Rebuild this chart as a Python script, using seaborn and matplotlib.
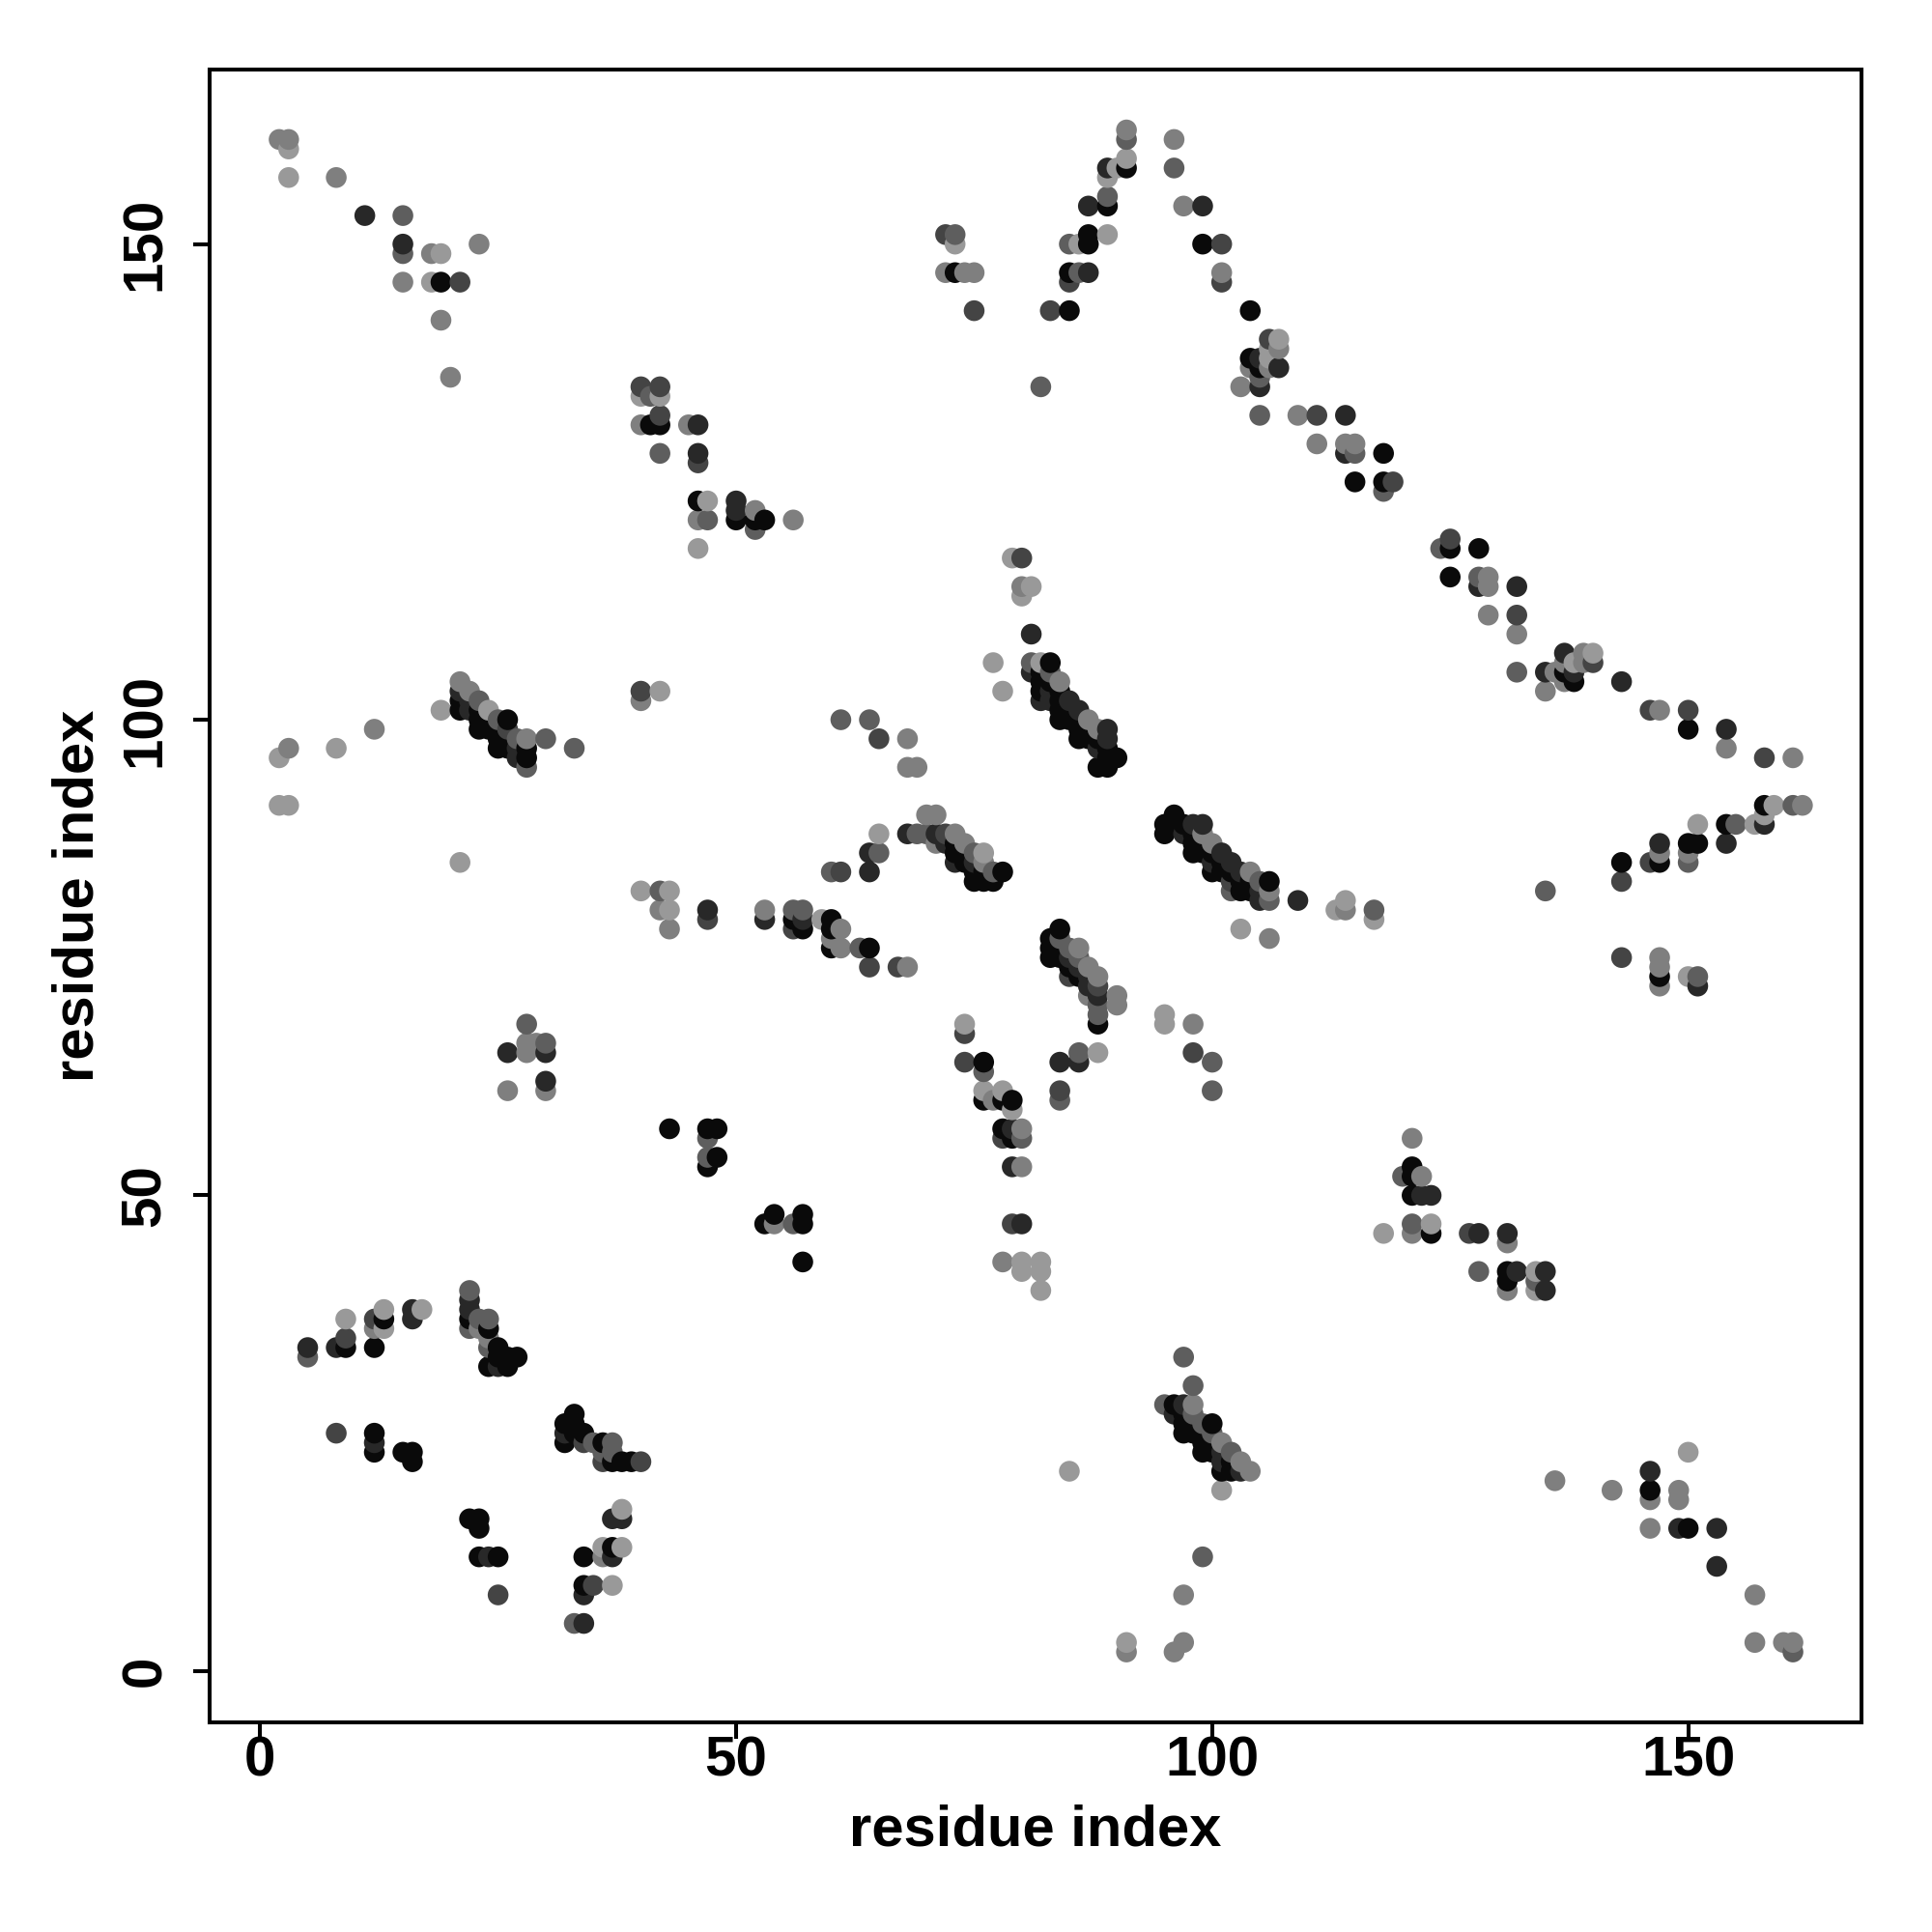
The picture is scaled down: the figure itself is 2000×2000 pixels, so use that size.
import pandas as pd
import matplotlib.pyplot as plt
import seaborn as sns

sns.set_style("white")
plt.rcParams['font.family'] = ['Liberation Sans', 'DejaVu Sans']
plt.rcParams['text.color'] = 'black'
plt.rcParams['axes.labelcolor'] = 'black'
plt.rcParams['xtick.color'] = 'black'
plt.rcParams['ytick.color'] = 'black'

# contact map: residue pairs and a shade class
# shade: 0 black, 1 dark, 2 dark-mid, 3 mid-dark, 4 mid, 5 light
res_x = [
    # top left
    2, 3, 3, 3, 8, 11, 15, 15, 15, 18, 19, 23, 15, 18, 19, 21, 19, 20,
    # 40-56 upper block
    40, 42, 40, 41, 42, 42, 40, 41, 42, 45, 46, 42, 46, 46, 46, 47, 50, 50, 50, 52, 52, 53, 52, 46, 47, 56, 46,
    # top centre ridge
    91, 91, 96, 89, 90, 91, 91, 96, 89, 87, 89, 89, 97, 99, 87, 89, 87, 85, 86, 99, 101, 72, 73, 73, 72, 73, 74, 75,
    85, 86, 87, 85, 101, 101, 75, 83, 85, 104,
    # knot near 105
    106, 107, 107, 106, 104, 105, 106, 104, 105, 106, 107, 105, 103, 105, 82, 105, 109, 111, 114, 111, 114, 115, 114,
    115, 118, 115, 118, 119, 118,
    # 77-81 above the diagonal block
    79, 80, 80, 81, 80, 81, 77, 78,
    # 81-90 block
    81, 82, 83, 81, 82, 83, 84, 82, 83, 82, 83, 84, 82, 83, 84, 85, 84, 85, 86, 84, 85, 86, 87, 86, 87, 88, 89,
    86, 87, 88, 89, 88, 89, 89, 90, 88, 89,
    61, 64, 65, 68, 68, 69,
    # 68-78 block
    70, 71, 68, 69, 70, 71, 72, 73, 65, 64, 65, 60, 61, 64, 71, 72, 73, 74, 73, 74, 75, 76, 73, 74, 75, 76,
    75, 76, 77, 78, 75, 76, 77,
    # 95-106 block
    96, 95, 96, 97, 98, 99, 95, 97, 98, 99, 98, 99, 100, 98, 99, 100, 101, 100, 101, 102, 100, 101, 102, 103, 104,
    102, 103, 104, 105, 106, 102, 103, 104, 105, 106, 105, 106, 109, 113, 114, 114, 117, 117, 103, 106,
    # 59-68 tail
    59, 60, 60, 61, 60, 60, 61, 63, 64, 64, 67, 68,
    # 83-90 lower block
    84, 83, 84, 83, 84, 85, 86, 83, 84, 85, 86, 85, 86, 87, 85, 86, 87, 88, 87, 88, 87, 88, 90, 88, 90, 88, 88,
    95, 95, 98, 98, 100, 100,
    74, 74, 74, 76, 76, 84, 86, 86, 88, 84, 84,
    76, 78, 76, 77, 78, 79, 79, 78, 79, 80, 78, 79, 80, 79, 80, 79, 80, 78, 80, 82, 80, 82, 82,
    # 124-140 stretch
    125, 124, 125, 128, 125, 128, 129, 128, 129, 132, 129, 132, 132, 132, 135, 136, 137, 139, 140, 137, 138, 139, 140,
    137, 138, 137, 138, 135, 143, 146, 147, 150, 150, 154, 154, 158, 161,
    # right arm
    158, 159, 161, 162, 151, 154, 155, 157, 158, 158, 147, 150, 151, 154, 147, 150, 143, 146, 147, 150, 143, 135,
    143, 147, 147, 147, 147, 150, 151, 151,
    # 118-135 lower right
    121, 121, 120, 121, 122, 121, 122, 123, 121, 123, 118, 121, 123, 127, 128, 131, 131, 128, 131, 132, 134, 135,
    131, 134, 131, 134, 135,
    # bottom right
    136, 142, 146, 146, 146, 146, 149, 149, 149, 150, 150, 153, 153, 157, 157, 160, 161, 161,
    # left upper block
    21, 22, 21, 23, 21, 22, 21, 22, 23, 24, 19, 26, 25, 23, 24, 23, 24, 25, 26, 25, 26, 27, 28, 30, 25, 26, 27, 28, 33,
    27, 28, 28, 3, 2, 8, 12, 2, 3, 21,
    40, 40, 42,
    # 40-57 middle
    40, 42, 43, 42, 43, 43, 47, 47, 53, 53, 56, 57, 56, 57, 56, 57,
    28, 28, 29, 30, 26, 28, 30, 30, 30, 26,
    43, 47, 48, 47, 47, 48, 47,
    53, 54, 54, 56, 57, 57, 57,
    # bottom left
    5, 5, 8, 9, 9, 9, 12, 12, 12, 13, 13, 13, 16, 16, 17,
    22, 22, 22, 22, 22, 23, 23, 24, 24, 24, 24, 25, 25, 26, 27, 24, 25, 26,
    8, 12, 12, 12, 15, 16, 16,
    33, 32, 33, 32, 33, 34, 32, 34, 35, 36, 37, 36, 37, 36, 37, 38, 39, 40,
    22, 23, 23, 23, 24, 25, 25,
    37, 38, 38, 36, 37, 38, 34, 36, 37, 34, 35, 37, 34, 33, 34,
    # 95-104 lower block
    97, 98, 95, 96, 97, 98, 96, 97, 98, 97, 98, 99, 100, 97, 98, 99, 100, 99, 100, 101, 99, 100, 101, 102, 101, 102,
    103, 101, 102, 103, 104, 101, 99, 97, 91, 91, 97, 96, 85,
]
res_y = [
    161, 161, 160, 157, 157, 153, 153, 150, 149, 149, 149, 150, 146, 146, 146, 146, 142, 136,
    135, 135, 134, 134, 134, 132, 131, 131, 131, 131, 131, 128, 128, 127, 123, 123, 123, 122, 121, 122, 121, 121, 120, 121, 121, 121, 118,
    162, 161, 161, 158, 158, 158, 159, 158, 157, 154, 154, 155, 154, 154, 151, 151, 150, 150, 150, 150, 150, 151, 151, 150, 147, 147, 147, 147,
    147, 147, 147, 146, 147, 146, 143, 143, 143, 143,
    140, 140, 139, 139, 138, 138, 138, 137, 137, 137, 137, 136, 135, 135, 135, 132, 132, 132, 132, 129, 129, 129, 128,
    128, 128, 125, 125, 125, 124,
    117, 117, 114, 114, 113, 109, 106, 103,
    106, 106, 106, 105, 105, 105, 104, 104, 104, 103, 103, 103, 102, 102, 102, 102, 101, 101, 101, 100, 100, 100, 100, 99, 99, 99, 99,
    98, 98, 98, 98, 97, 97, 96, 96, 95, 95,
    100, 100, 98, 98, 95, 95,
    90, 90, 88, 88, 88, 88, 88, 88, 88, 86, 86, 84, 84, 84, 87, 87, 87, 87, 86, 86, 86, 86, 85, 85, 85, 85,
    84, 84, 84, 84, 83, 83, 83,
    90, 89, 89, 89, 89, 89, 88, 88, 88, 88, 87, 87, 87, 86, 86, 86, 86, 85, 85, 85, 84, 84, 84, 84, 84,
    83, 83, 83, 83, 83, 82, 82, 82, 82, 82, 81, 81, 81, 80, 81, 80, 80, 79, 78, 77,
    79, 79, 78, 78, 77, 76, 76, 76, 76, 74, 74, 74,
    78, 77, 77, 76, 76, 76, 76, 75, 75, 75, 75, 74, 74, 74, 73, 73, 73, 73, 72, 72, 71, 71, 71, 70, 70, 69, 68,
    69, 68, 68, 65, 64, 61,
    68, 67, 64, 64, 63, 64, 65, 64, 65, 61, 60,
    61, 61, 60, 60, 60, 60, 59, 57, 57, 57, 56, 56, 56, 53, 53, 47, 47, 43, 43, 43, 42, 42, 40,
    119, 118, 118, 118, 115, 115, 115, 114, 114, 114, 111, 111, 109, 105, 105, 105, 107, 107, 107, 106, 106, 106, 106,
    105, 105, 104, 104, 103, 104, 101, 101, 101, 99, 99, 97, 96, 96,
    91, 91, 91, 91, 89, 89, 89, 89, 90, 89, 87, 87, 87, 87, 86, 86, 85, 85, 85, 85, 83, 82,
    75, 75, 74, 73, 72, 73, 73, 72,
    56, 53, 52, 52, 52, 50, 50, 50, 47, 47, 46, 46, 46, 46, 46, 46, 45, 42, 42, 42, 42, 42,
    41, 41, 40, 40, 40,
    20, 19, 21, 19, 18, 15, 19, 18, 15, 15, 23, 15, 11, 8, 3, 3, 3, 2,
    104, 103, 103, 102, 102, 102, 101, 101, 101, 101, 101, 100, 100, 100, 100, 99, 99, 99, 99, 98, 98, 98, 98, 98, 97, 97, 97, 97, 97,
    96, 96, 95, 97, 96, 97, 99, 91, 91, 85,
    103, 102, 103,
    82, 82, 82, 80, 80, 78, 80, 79, 80, 79, 80, 80, 79, 79, 78, 78,
    68, 66, 66, 66, 65, 65, 65, 62, 61, 61,
    57, 57, 57, 56, 54, 54, 53,
    47, 48, 47, 47, 48, 47, 43,
    34, 33, 34, 34, 35, 37, 34, 37, 36, 36, 37, 38, 38, 37, 38,
    40, 39, 38, 37, 36, 37, 36, 37, 36, 35, 34, 34, 33, 33, 33, 32, 32, 32,
    25, 25, 24, 23, 23, 23, 22,
    27, 26, 26, 25, 25, 25, 24, 24, 24, 24, 24, 23, 23, 22, 22, 22, 22, 22,
    16, 16, 15, 12, 12, 12, 8,
    16, 16, 17, 13, 13, 13, 12, 12, 12, 9, 9, 9, 8, 5, 5,
    33, 30, 28, 28, 28, 28, 27, 27, 27, 26, 26, 26, 26, 25, 25, 25, 25, 24, 24, 24, 23, 23, 23, 23, 22, 22,
    22, 21, 21, 21, 21, 19, 12, 8, 3, 2, 3, 2, 21,
]
shade = [
    4, 4, 5, 5, 4, 1, 3, 1, 3, 4, 5, 4, 4, 5, 0, 2, 4, 4,
    2, 2, 5, 3, 5, 2, 4, 0, 0, 4, 1, 3, 1, 2, 0, 5, 1, 1, 0, 4, 0, 0, 3, 4, 3, 4, 5,
    4, 3, 4, 1, 5, 0, 5, 3, 5, 1, 0, 3, 4, 1, 0, 5, 0, 3, 5, 0, 2, 2, 3, 5, 4, 0, 4, 4,
    0, 3, 1, 2, 4, 2, 2, 2, 0, 0,
    2, 5, 4, 5, 0, 1, 5, 4, 0, 4, 1, 3, 4, 1, 3, 3, 4, 2, 1, 4, 4, 4, 1,
    3, 0, 0, 0, 2, 3,
    5, 2, 4, 5, 5, 1, 5, 5,
    3, 5, 0, 1, 0, 3, 4, 0, 0, 0, 1, 0, 1, 1, 0, 1, 0, 0, 1, 0, 0, 0, 4, 0, 0, 4, 1,
    0, 0, 0, 1, 1, 0, 0, 0, 0, 0,
    3, 3, 2, 4, 4, 4,
    4, 4, 1, 3, 3, 1, 2, 4, 5, 1, 3, 3, 2, 1, 4, 1, 0, 4, 0, 0, 3, 5, 1, 0, 1, 4,
    0, 0, 3, 0, 0, 0, 0,
    0, 0, 0, 0, 1, 1, 0, 1, 0, 4, 0, 0, 4, 0, 0, 0, 1, 1, 0, 1, 0, 0, 0, 1, 4,
    2, 0, 0, 3, 0, 3, 0, 0, 1, 4, 1, 3, 1, 5, 5, 4, 3, 5, 5, 4,
    5, 0, 0, 4, 4, 0, 4, 3, 0, 2, 2, 4,
    0, 0, 3, 0, 0, 3, 4, 0, 0, 1, 3, 0, 1, 4, 2, 0, 1, 4, 1, 2, 4, 1, 4, 3, 4, 3, 0,
    5, 5, 4, 2, 3, 3,
    5, 2, 2, 0, 3, 1, 3, 1, 5, 2, 3,
    5, 5, 0, 4, 0, 0, 5, 0, 1, 4, 2, 0, 3, 1, 4, 2, 1, 4, 5, 5, 5, 5, 5,
    2, 3, 0, 0, 0, 3, 4, 1, 4, 1, 4, 2, 4, 3, 1, 4, 1, 4, 5, 4, 5, 4, 2,
    0, 1, 4, 0, 4, 1, 2, 4, 2, 0, 1, 4, 2, 4,
    0, 5, 3, 4, 5, 0, 3, 5, 5, 1, 1, 0, 0, 1, 4, 4, 0, 2, 0, 3, 2, 3,
    2, 4, 4, 0, 4, 5, 3, 1,
    4, 0, 3, 0, 4, 0, 1, 1, 3, 5, 5, 4, 0, 2, 1, 1, 4, 3, 0, 1, 5, 1,
    0, 3, 4, 5, 1,
    4, 4, 1, 0, 4, 4, 4, 4, 1, 0, 5, 1, 1, 4, 4, 4, 4, 3,
    4, 4, 1, 3, 0, 1, 0, 1, 0, 5, 5, 0, 3, 0, 0, 0, 0, 0, 2, 0, 0, 3, 4, 3, 0, 0, 1, 0, 3,
    1, 0, 3, 4, 5, 5, 4, 5, 5, 5,
    2, 4, 5,
    5, 3, 5, 4, 5, 4, 1, 2, 4, 1, 3, 3, 0, 1, 2, 0,
    3, 4, 4, 3, 1, 4, 1, 1, 4, 4,
    0, 0, 0, 3, 3, 0, 0,
    0, 0, 4, 3, 0, 0, 0,
    1, 3, 1, 0, 2, 5, 0, 2, 4, 5, 0, 5, 1, 1, 5,
    3, 1, 1, 0, 3, 3, 4, 3, 0, 4, 3, 0, 0, 0, 0, 0, 1, 0,
    2, 0, 1, 0, 0, 0, 0,
    0, 0, 0, 1, 0, 0, 0, 2, 3, 0, 3, 3, 3, 2, 0, 0, 0, 2,
    0, 0, 0, 0, 1, 0, 2,
    1, 1, 5, 5, 0, 5, 0, 4, 1, 0, 2, 5, 1, 3, 1,
    3, 3, 3, 0, 1, 4, 1, 0, 3, 0, 0, 3, 0, 0, 0, 0, 3, 0, 0, 4, 0, 0, 1, 3, 1, 0,
    4, 0, 0, 1, 4, 5, 3, 4, 5, 4, 4, 4, 5,
]
axis_ticks = [0, 50, 100, 150]
gray_levels = {0: '#0a0a0a', 1: '#282828', 2: '#444444', 3: '#5e5e5e', 4: '#7f7f7f', 5: '#999999'}

df = pd.DataFrame({'x': res_x, 'y': res_y, 'shade': shade})
# later residues were drawn over earlier ones
df = df.sort_values(['x', 'y'], kind='stable')

fig = plt.figure(figsize=(10, 10), dpi=200)
ax = fig.add_axes([217 / 2000, 1 - 1783 / 2000, 1710 / 2000, 1711.5 / 2000])
sns.scatterplot(data=df, x='x', y='y', hue='shade', palette=gray_levels, s=60,
                linewidth=0, legend=False, ax=ax, zorder=3)

ax.set_xlim(-5.3, 168.2)
ax.set_ylim(-5.4, 168.4)
ax.set_xticks(axis_ticks)
ax.set_yticks(axis_ticks)
ax.set_xticklabels([str(t) for t in axis_ticks], fontsize=21, fontweight='bold')
ax.set_yticklabels([str(t) for t in axis_ticks], fontsize=21, fontweight='bold',
                   rotation=90, va='center')
ax.tick_params(axis='both', length=6, width=1.45, color='black', bottom=True, left=True)
ax.tick_params(axis='x', pad=-1)
ax.tick_params(axis='y', pad=8)
ax.set_xlabel('residue index', fontsize=21.5, fontweight='bold', labelpad=6)
ax.set_ylabel('residue index', fontsize=21.5, fontweight='bold', labelpad=5.5)
for spine in ax.spines.values():
    spine.set_linewidth(1.45)
    spine.set_color('black')

fig.savefig('out.png', dpi=200)
